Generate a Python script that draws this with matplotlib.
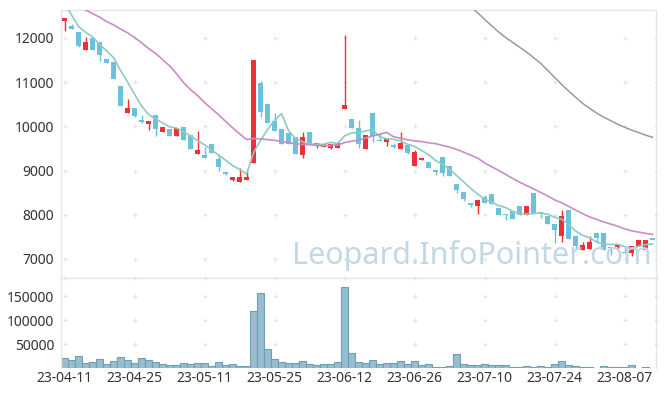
import matplotlib
matplotlib.use("Agg")
import matplotlib.pyplot as plt
import numpy as np

plt.rcParams['font.family'] = ['Noto Sans', 'DejaVu Sans']

dates = ["23-04-11", "23-04-12", "23-04-13", "23-04-14", "23-04-17", "23-04-18", "23-04-19", "23-04-20", "23-04-21", "23-04-24",
         "23-04-25", "23-04-26", "23-04-27", "23-04-28", "23-05-02", "23-05-03", "23-05-04", "23-05-08", "23-05-09", "23-05-10",
         "23-05-11", "23-05-12", "23-05-15", "23-05-16", "23-05-17", "23-05-18", "23-05-19", "23-05-22", "23-05-23", "23-05-24",
         "23-05-25", "23-05-26", "23-05-30", "23-05-31", "23-06-01", "23-06-02", "23-06-05", "23-06-07", "23-06-08", "23-06-09",
         "23-06-12", "23-06-13", "23-06-14", "23-06-15", "23-06-16", "23-06-19", "23-06-20", "23-06-21", "23-06-22", "23-06-23",
         "23-06-26", "23-06-27", "23-06-28", "23-06-29", "23-06-30", "23-07-03", "23-07-04", "23-07-05", "23-07-06", "23-07-07",
         "23-07-10", "23-07-11", "23-07-12", "23-07-13", "23-07-14", "23-07-17", "23-07-18", "23-07-19", "23-07-20", "23-07-21",
         "23-07-24", "23-07-25", "23-07-26", "23-07-27", "23-07-28", "23-07-31", "23-08-01", "23-08-02", "23-08-03", "23-08-04",
         "23-08-07", "23-08-08", "23-08-09", "23-08-10", "23-08-11"]

opens = [12391, 12278, 12136, 11735, 12000, 11910, 11525, 11464, 10914, 10310,
         10423, 10145, 10054, 10258, 9880, 9941, 9790, 9986, 9805, 9382,
         9360, 9602, 9262, 8975, 8787, 8749, 8794, 9179, 10989, 10507,
         10122, 9941, 9851, 9760, 9360, 9873, 9572, 9541, 9518, 9518,
         10401, 10167, 9964, 9495, 10303, 9683, 9654, 9587, 9495, 9587,
         9111, 9247, 9195, 9014, 9308, 9104, 8697, 8516, 8267, 8206,
         8395, 8471, 8161, 8011, 8086, 8192, 7989, 8486, 8056, 7973,
         7792, 7520, 8109, 7520, 7197, 7233, 7581, 7581, 7272, 7265,
         7158, 7129, 7287, 7211, 7475]
closes = [12446, 12210, 11826, 11903, 11729, 11622, 11442, 11072, 10462, 10423,
          10242, 10100, 10122, 9948, 9986, 9783, 9964, 9700, 9495, 9459,
          9292, 9405, 9088, 8930, 8855, 8855, 8855, 11502, 10333, 10084,
          9903, 9609, 9609, 9376, 9760, 9609, 9624, 9594, 9602, 9617,
          10477, 9971, 9609, 9805, 9776, 9668, 9738, 9541, 9624, 9405,
          9421, 9285, 9066, 8968, 8953, 8885, 8568, 8364, 8213, 8335,
          8274, 8237, 7989, 7989, 7912, 7995, 8192, 8048, 8033, 7799,
          7656, 7973, 7445, 7301, 7317, 7385, 7482, 7197, 7256, 7340,
          7129, 7287, 7430, 7430, 7423]
highs = [12446, 12317, 12136, 12030, 12000, 11910, 11525, 11464, 10914, 10620,
         10423, 10258, 10122, 10258, 9986, 9941, 9964, 9986, 9805, 9896,
         9541, 9602, 9376, 8975, 8855, 9052, 9014, 11502, 11020, 10507,
         10295, 9941, 9851, 9760, 9880, 9873, 9624, 9594, 9602, 9617,
         12068, 10167, 10145, 9805, 10303, 9857, 9738, 9632, 9880, 9587,
         9460, 9285, 9195, 9014, 9308, 9104, 8697, 8516, 8267, 8335,
         8440, 8471, 8161, 8011, 8086, 8192, 8192, 8486, 8056, 7973,
         7792, 8101, 8109, 7520, 7378, 7514, 7581, 7581, 7272, 7340,
         7280, 7287, 7430, 7430, 7475]
lows = [12158, 12210, 11803, 11735, 11720, 11480, 11442, 11072, 10462, 10310,
        10206, 10084, 9919, 9790, 9880, 9783, 9790, 9700, 9495, 9382,
        9292, 9405, 8998, 8910, 8765, 8749, 8794, 9179, 10220, 10084,
        9903, 9609, 9609, 9376, 9278, 9609, 9505, 9541, 9480, 9518,
        10401, 9971, 9505, 9495, 9640, 9668, 9557, 9520, 9495, 9380,
        9111, 9247, 9066, 8900, 8885, 8885, 8484, 8303, 8170, 8011,
        8274, 8237, 7989, 7882, 7912, 7995, 7989, 8048, 7920, 7799,
        7369, 7392, 7445, 7204, 7197, 7233, 7369, 7197, 7091, 7220,
        7129, 7068, 7287, 7211, 7423]
volumes = [20800, 17400, 25700, 11100, 13200, 19400, 9000, 15300, 23600, 16000,
           11100, 21500, 16000, 13200, 9000, 6900, 6900, 11100, 9000, 11100,
           11100, 4900, 13200, 6900, 9000, 4900, 4900, 119400, 156800, 40300,
           19400, 13200, 11100, 11100, 15300, 9000, 6900, 9000, 9000, 13200,
           170000, 31900, 13200, 11100, 17400, 9000, 11100, 11100, 15300, 9000,
           15300, 6900, 9000, 2800, 2800, 4900, 29800, 9000, 6900, 6900,
           9000, 6900, 6900, 6900, 2800, 2800, 4900, 2800, 4900, 2800,
           9000, 13900, 6900, 4900, 2800, 2800, 1000, 4900, 2800, 2800,
           2800, 6900, 1000, 2800, 1000]
ma5 = [12800, 12520, 12256, 12128, 12023, 11858, 11704, 11554, 11265, 11004,
       10728, 10460, 10270, 10167, 10080, 9988, 9961, 9876, 9786, 9680,
       9582, 9470, 9348, 9235, 9114, 9027, 8917, 9399, 9680, 9926,
       10135, 10286, 9908, 9716, 9651, 9593, 9596, 9593, 9638, 9609,
       9783, 9852, 9855, 9896, 9928, 9766, 9719, 9706, 9669, 9595,
       9546, 9455, 9360, 9229, 9139, 9031, 8888, 8748, 8597, 8473,
       8351, 8285, 8210, 8165, 8080, 8024, 8015, 8027, 8036, 8013,
       7946, 7902, 7781, 7635, 7538, 7484, 7386, 7336, 7327, 7332,
       7281, 7242, 7288, 7323, 7340]
ma20 = [12950, 12850, 12740, 12630, 12550, 12470, 12370, 12295, 12200, 12115,
        12010, 11890, 11760, 11650, 11510, 11370, 11190, 10990, 10830, 10697,
        10539, 10399, 10262, 10113, 9970, 9831, 9702, 9723, 9717, 9700,
        9683, 9658, 9633, 9604, 9593, 9584, 9567, 9562, 9567, 9575,
        9634, 9663, 9689, 9732, 9779, 9819, 9863, 9765, 9730, 9696,
        9672, 9656, 9628, 9608, 9568, 9531, 9479, 9417, 9348, 9284,
        9173, 9087, 9006, 8915, 8822, 8738, 8661, 8586, 8507, 8426,
        8338, 8272, 8191, 8108, 8026, 7951, 7897, 7839, 7791, 7741,
        7684, 7636, 7608, 7580, 7556]
ma120 = [None] * 57 + [12870, 12720, 12570, 12420, 12275, 12135, 12010, 11900, 11790, 11680,
                       11555, 11427, 11270, 11110, 10950, 10800, 10660, 10520, 10410, 10300,
                       10210, 10130, 10050, 9980, 9915, 9860, 9800, 9753]

tick_labels = ["23-04-11", "23-04-25", "23-05-11", "23-05-25", "23-06-12",
               "23-06-26", "23-07-10", "23-07-24", "23-08-07"]
price_ticks = [7000, 8000, 9000, 10000, 11000, 12000]
vol_ticks = [50000, 100000, 150000]

RED = '#ee3039'
BLUE = '#6cc2da'
GRID = '#e3e3e3'
SPINE = '#e6e6e6'
TXT = '#333333'

fig = plt.figure(figsize=(6.65, 3.96), dpi=100)
ax = fig.add_axes([61 / 665, 1 - 278 / 396, 595 / 665, 268 / 396])
axv = fig.add_axes([61 / 665, 1 - 368 / 396, 595 / 665, 90 / 396])

n = len(dates)
x = np.arange(n)
o = np.array(opens, float); c = np.array(closes, float)
h = np.array(highs, float); l = np.array(lows, float)
up = c >= o
cols = np.where(up, RED, BLUE)

ax.vlines(x, l, h, colors=cols, linewidth=1.0, zorder=2)
bottom = np.minimum(o, c)
height = np.maximum(np.abs(c - o), 12)
ax.bar(x, height, bottom=bottom, width=0.72, color=cols, linewidth=0, zorder=3)

ma120_arr = np.array([np.nan if v is None else v for v in ma120], float)
ax.plot(x, ma5, color='#8ecbc2', lw=1.2, zorder=4)
ax.plot(x, ma20, color='#c98dc6', lw=1.2, zorder=4)
ax.plot(x, ma120_arr, color='#9a9a9a', lw=1.1, zorder=4)

xlim = (-0.5, n - 0.5)
ax.set_xlim(*xlim)
ax.set_ylim(6570, 12630)
axv.set_xlim(*xlim)
axv.set_ylim(0, 188000)

ticks = [dates.index(t) for t in tick_labels]

# grid crosses
gx = ticks + [n - 0.5]
for yy in price_ticks + [6570]:
    ax.plot(gx, [yy] * len(gx), '+', color=GRID, ms=3, mew=0.8, zorder=1, clip_on=False)
for yy in vol_ticks + [188000]:
    axv.plot(gx, [yy] * len(gx), '+', color=GRID, ms=3, mew=0.8, zorder=1, clip_on=False)

axv.bar(x, volumes, width=0.95, color='#97bdce', edgecolor='#6f9fb6', linewidth=0.8, zorder=2)

ax.text(n - 1.1, 6890, 'Leopard.InfoPointer.com', fontsize=22, color='#c3d8e5',
        ha='right', va='baseline', zorder=5)

for a in (ax, axv):
    for s in a.spines.values():
        s.set_color(SPINE)
        s.set_linewidth(1.0)
    a.tick_params(length=0, labelsize=10, colors=TXT, pad=5)
axv.spines['bottom'].set_visible(False)

ax.set_yticks(price_ticks)
ax.set_yticklabels([str(v) for v in price_ticks])
ax.set_xticks([])
axv.set_yticks(vol_ticks)
axv.set_yticklabels([str(v) for v in vol_ticks])
axv.set_xticks(ticks)
axv.set_xticklabels(tick_labels)
axv.tick_params(axis='x', pad=2)

fig.savefig('out.png', dpi=100)
